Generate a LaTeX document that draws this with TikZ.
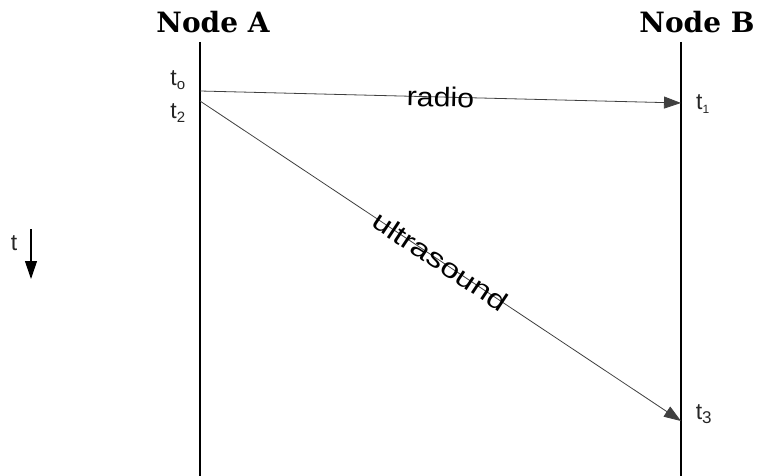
\documentclass[tikz,border=0pt]{standalone}
\usepackage{fontspec}
\usepackage{graphicx}
\setmainfont{Liberation Sans}
\newfontfamily\titlefont{DejaVu Serif}
\usetikzlibrary{arrows.meta}
\tikzset{
  lifeline/.style={line width=1.1pt, black},
  msg/.style={line width=0.8pt, black!75, -{Triangle[length=17pt,width=12pt]}},
  title/.style={font=\titlefont\bfseries\fontsize{28}{32}\selectfont, inner sep=0pt, text=black},
  tlab/.style={font=\fontsize{23}{26}\selectfont, inner sep=0pt, text=black!85},
  msglab/.style={font=\fontsize{27}{30}\selectfont, inner sep=0pt, sloped, text=black}
}
\begin{document}
\begin{tikzpicture}[x=1pt,y=-1pt]
\useasboundingbox (0,0) rectangle (758,476);
\node[title] (nA) at (213,22) {Node A};
\node[title] (nB) at (697,22) {Node B};
\coordinate (aTop) at (200,42);
\coordinate (aBot) at (200,476);
\coordinate (bTop) at (681,42);
\coordinate (bBot) at (681,476);
\draw[lifeline] (aTop) -- (aBot);
\draw[lifeline] (bTop) -- (bBot);
\coordinate (s0) at (200,91);
\coordinate (r1) at (681,103);
\coordinate (s2) at (200,101);
\coordinate (r3) at (681,421);
\draw[msg] (s0) -- node[msglab] (lr) {\scalebox{1.12}[1]{radio}} (r1);
\draw[msg] (s2) -- node[msglab, pos=0.5] (lu) {\scalebox{1.24}[1]{ultrasound}} (r3);
\node[tlab] (t0) at (178,80) {t\textsubscript{\fontsize{15}{16}\selectfont o}};
\node[tlab] (t2) at (178,113) {t\textsubscript{\fontsize{15}{16}\selectfont 2}};
\node[tlab] (t1) at (703,104) {t\textsubscript{\fontsize{12}{13}\selectfont 1}};
\node[tlab] (t3) at (704,414) {t\textsubscript{\fontsize{17}{18}\selectfont 3}};
\node[tlab] (tt) at (14,243) {t};
\coordinate (ta) at (31,229);
\coordinate (tb) at (31,279);
\draw[line width=1.1pt, -{Triangle[length=18pt,width=12pt]}] (ta) -- (tb);
\end{tikzpicture}
\end{document}
